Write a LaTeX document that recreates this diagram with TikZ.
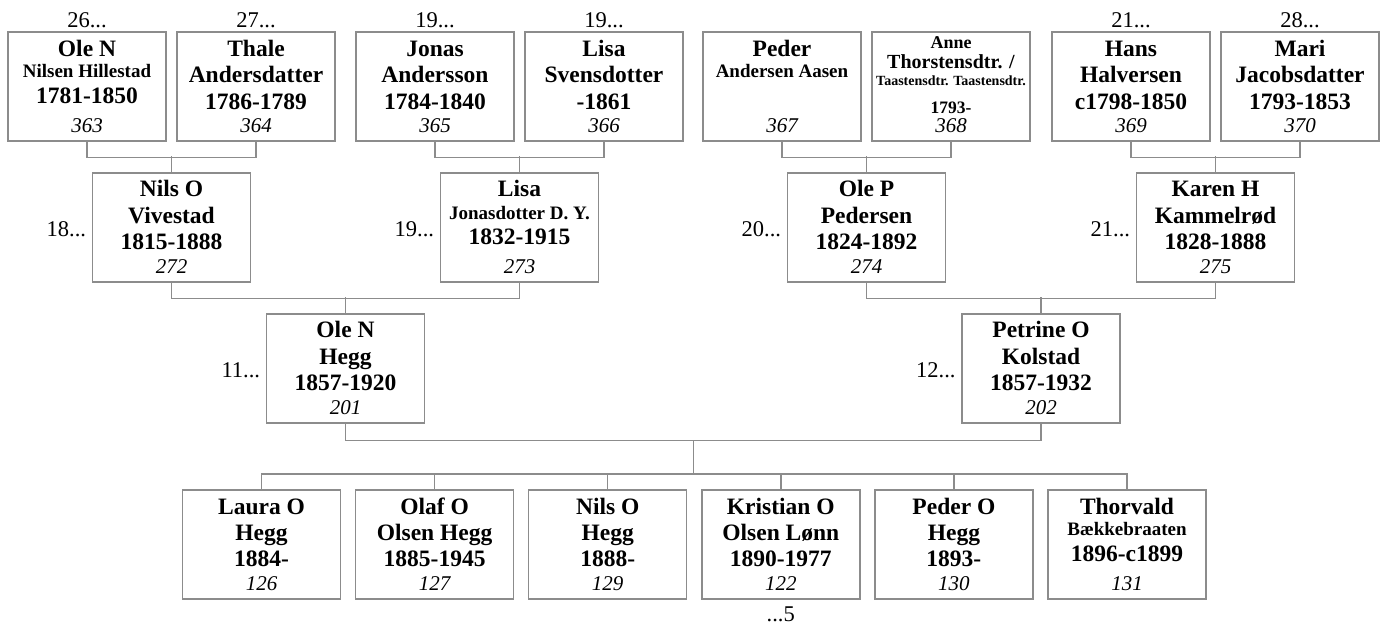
\documentclass[tikz,border=0pt]{standalone}
\usepackage{fontspec}
\setmainfont{Liberation Serif}
\usetikzlibrary{calc}
\definecolor{linegray}{RGB}{140,140,140}
\newcommand\pline[5]{\node[#2] (#1) at ([yshift=-#3pt]#4.north) {#5};}
\newcommand\pnumb[2]{\node[num] (#1n) at ([yshift=9pt]#1.south) {#2};}
\newcommand\pframe[3]{\node[pbox] (#1) at (#2,#3+54.5) {};}
\tikzset{
  pbox/.style={draw=linegray, line width=1.4pt, minimum width=158pt, minimum height=109pt, inner sep=0pt, fill=white},
  big/.style={font=\fontsize{23.5}{26}\selectfont\bfseries, inner sep=0pt, anchor=base},
  small/.style={font=\fontsize{19}{21}\selectfont\bfseries, inner sep=0pt, anchor=base},
  num/.style={font=\fontsize{21}{23}\selectfont\itshape, inner sep=0pt, anchor=base},
  lab/.style={font=\fontsize{22.5}{25}\selectfont, inner sep=0pt, anchor=base},
  slab/.style={font=\fontsize{22.5}{25}\selectfont, inner sep=0pt, anchor=base east},
  conn/.style={draw=linegray, line width=1.4pt},
}
\begin{document}
\begin{tikzpicture}[x=1pt,y=-1pt]
\fill[white] (0,0) rectangle (1381,625);
\useasboundingbox (0,0) rectangle (1381,625);
% ---------- top row ----------
\pframe{a1}{87}{32}
\pline{a1a}{big}{25}{a1}{Ole N}
\pline{a1b}{small}{46.5}{a1}{Nilsen Hillestad}
\pline{a1c}{big}{72}{a1}{1781-1850}
\pnumb{a1}{363}
\node[lab] (a1l) at ([yshift=4pt]a1.north) {26...};

\pframe{a2}{256}{32}
\pline{a2a}{big}{25}{a2}{Thale}
\pline{a2b}{big}{51.5}{a2}{Andersdatter}
\pline{a2c}{big}{78}{a2}{1786-1789}
\pnumb{a2}{364}
\node[lab] (a2l) at ([yshift=4pt]a2.north) {27...};

\pframe{a3}{435}{32}
\pline{a3a}{big}{25}{a3}{Jonas}
\pline{a3b}{big}{51.5}{a3}{Andersson}
\pline{a3c}{big}{78}{a3}{1784-1840}
\pnumb{a3}{365}
\node[lab] (a3l) at ([yshift=4pt]a3.north) {19...};

\pframe{a4}{604}{32}
\pline{a4a}{big}{25}{a4}{Lisa}
\pline{a4b}{big}{51.5}{a4}{Svensdotter}
\pline{a4c}{big}{78}{a4}{-1861}
\pnumb{a4}{366}
\node[lab] (a4l) at ([yshift=4pt]a4.north) {19...};

\pframe{a5}{782}{32}
\pline{a5a}{big}{25}{a5}{Peder}
\pline{a5b}{small}{46.5}{a5}{Andersen Aasen}
\pnumb{a5}{367}

\pframe{a6}{951}{32}
\node[font=\fontsize{18}{20}\selectfont\bfseries, inner sep=0pt, anchor=base] (a6a) at ([yshift=-17.3pt]a6.north) {Anne};
\node[font=\fontsize{20}{22}\selectfont\bfseries, inner sep=0pt, anchor=base] (a6b) at ([yshift=-37.3pt]a6.north) {Thorstensdtr. /};
\node[font=\fontsize{14}{16}\selectfont\bfseries, inner sep=0pt, anchor=base] (a6c) at ([yshift=-54pt]a6.north) {Taastensdtr. Taastensdtr.};
\node[font=\fontsize{17.5}{19}\selectfont\bfseries, inner sep=0pt, anchor=base] (a6d) at ([yshift=-82.3pt]a6.north) {1793-};
\pnumb{a6}{368}

\pframe{a7}{1131}{32}
\pline{a7a}{big}{25}{a7}{Hans}
\pline{a7b}{big}{51.5}{a7}{Halversen}
\pline{a7c}{big}{78}{a7}{c1798-1850}
\pnumb{a7}{369}
\node[lab] (a7l) at ([yshift=4pt]a7.north) {21...};

\pframe{a8}{1300}{32}
\pline{a8a}{big}{25}{a8}{Mari}
\pline{a8b}{big}{51.5}{a8}{Jacobsdatter}
\pline{a8c}{big}{78}{a8}{1793-1853}
\pnumb{a8}{370}
\node[lab] (a8l) at ([yshift=4pt]a8.north) {28...};

% ---------- parents row ----------
\pframe{b1}{171.5}{173}
\pline{b1a}{big}{24.5}{b1}{Nils O}
\pline{b1b}{big}{51}{b1}{Vivestad}
\pline{b1c}{big}{77.5}{b1}{1815-1888}
\pnumb{b1}{272}
\node[slab] (b1l) at ([xshift=-5.5pt,yshift=-64.5pt]b1.north west) {18...};

\pframe{b2}{519.5}{173}
\pline{b2a}{big}{24.5}{b2}{Lisa}
\pline{b2b}{small}{47}{b2}{Jonasdotter D. Y.}
\pline{b2c}{big}{72.5}{b2}{1832-1915}
\pnumb{b2}{273}
\node[slab] (b2l) at ([xshift=-5.5pt,yshift=-64.5pt]b2.north west) {19...};

\pframe{b3}{866.5}{173}
\pline{b3a}{big}{24.5}{b3}{Ole P}
\pline{b3b}{big}{51}{b3}{Pedersen}
\pline{b3c}{big}{77.5}{b3}{1824-1892}
\pnumb{b3}{274}
\node[slab] (b3l) at ([xshift=-5.5pt,yshift=-64.5pt]b3.north west) {20...};

\pframe{b4}{1215.5}{173}
\pline{b4a}{big}{24.5}{b4}{Karen H}
\pline{b4b}{big}{51}{b4}{Kammelrød}
\pline{b4c}{big}{77.5}{b4}{1828-1888}
\pnumb{b4}{275}
\node[slab] (b4l) at ([xshift=-5.5pt,yshift=-64.5pt]b4.north west) {21...};

% ---------- couple row ----------
\pframe{c1}{345.5}{314}
\pline{c1a}{big}{24.5}{c1}{Ole N}
\pline{c1b}{big}{51}{c1}{Hegg}
\pline{c1c}{big}{77.5}{c1}{1857-1920}
\pnumb{c1}{201}
\node[slab] (c1l) at ([xshift=-5.5pt,yshift=-64.5pt]c1.north west) {11...};

\pframe{c2}{1041}{314}
\pline{c2a}{big}{24.5}{c2}{Petrine O}
\pline{c2b}{big}{51}{c2}{Kolstad}
\pline{c2c}{big}{77.5}{c2}{1857-1932}
\pnumb{c2}{202}
\node[slab] (c2l) at ([xshift=-5.5pt,yshift=-64.5pt]c2.north west) {12...};

% ---------- children row ----------
\pframe{k1}{261.5}{490}
\pline{k1a}{big}{25}{k1}{Laura O}
\pline{k1b}{big}{51}{k1}{Hegg}
\pline{k1c}{big}{77.5}{k1}{1884-}
\pnumb{k1}{126}

\pframe{k2}{434.6}{490}
\pline{k2a}{big}{25}{k2}{Olaf O}
\pline{k2b}{big}{51}{k2}{Olsen Hegg}
\pline{k2c}{big}{77.5}{k2}{1885-1945}
\pnumb{k2}{127}

\pframe{k3}{607.7}{490}
\pline{k3a}{big}{25}{k3}{Nils O}
\pline{k3b}{big}{51}{k3}{Hegg}
\pline{k3c}{big}{77.5}{k3}{1888-}
\pnumb{k3}{129}

\pframe{k4}{780.8}{490}
\pline{k4a}{big}{25}{k4}{Kristian O}
\pline{k4b}{big}{51}{k4}{Olsen Lønn}
\pline{k4c}{big}{77.5}{k4}{1890-1977}
\pnumb{k4}{122}
\node[lab] (k4l) at ([yshift=-22pt]k4.south) {...5};

\pframe{k5}{953.9}{490}
\pline{k5a}{big}{25}{k5}{Peder O}
\pline{k5b}{big}{51}{k5}{Hegg}
\pline{k5c}{big}{77.5}{k5}{1893-}
\pnumb{k5}{130}

\pframe{k6}{1127}{490}
\pline{k6a}{big}{25}{k6}{Thorvald}
\pline{k6b}{small}{46.5}{k6}{Bækkebraaten}
\pline{k6c}{big}{72}{k6}{1896-c1899}
\pnumb{k6}{131}

% ---------- connectors ----------
\draw[conn] (a1.south) -- ++(0,16) -| (a2.south);
\draw[conn] (b1.north) -- ++(0,-16);
\draw[conn] (a3.south) -- ++(0,16) -| (a4.south);
\draw[conn] (b2.north) -- ++(0,-16);
\draw[conn] (a5.south) -- ++(0,16) -| (a6.south);
\draw[conn] (b3.north) -- ++(0,-16);
\draw[conn] (a7.south) -- ++(0,16) -| (a8.south);
\draw[conn] (b4.north) -- ++(0,-16);

\draw[conn] (b1.south) -- ++(0,16) -| (b2.south);
\draw[conn] (c1.north) -- ++(0,-16);
\draw[conn] (b3.south) -- ++(0,16) -| (b4.south);
\draw[conn] (c2.north) -- ++(0,-16);

\draw[conn] (c1.south) -- ++(0,17) -| (c2.south);
\coordinate (gj) at ($(c1.south)!0.5!(c2.south)+(0,17)$);
\draw[conn] (k1.north) -- ++(0,-15.5) coordinate (kb) -| (k6.north);
\foreach \k in {k2,k3,k4,k5} { \draw[conn] (\k.north) -- ++(0,-15.5); }
\draw[conn] (gj) -- (gj |- kb);
\end{tikzpicture}
\end{document}
